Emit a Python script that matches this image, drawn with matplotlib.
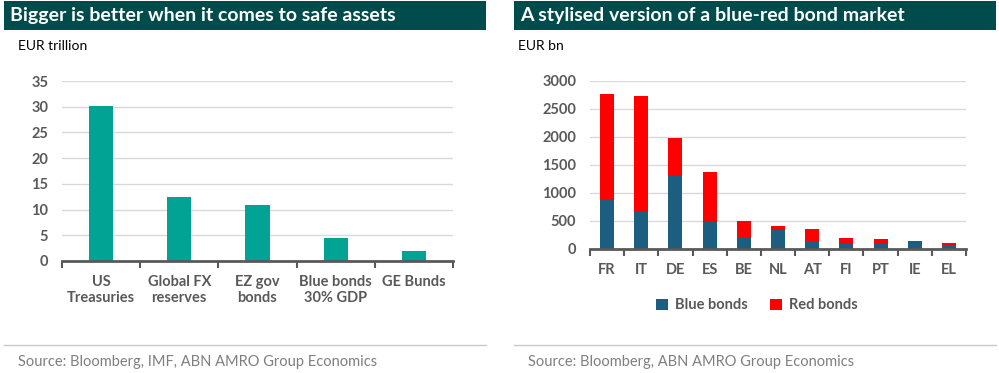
import numpy as np
import matplotlib.pyplot as plt

# data
asset_labels = ["US\nTreasuries", "Global FX\nreserves", "EZ gov\nbonds", "Blue bonds\n30% GDP", "GE Bunds"]
asset_values = [30.2, 12.4, 10.9, 4.4, 1.9]

countries = ["FR", "IT", "DE", "ES", "BE", "NL", "AT", "FI", "PT", "IE", "EL"]
blue_bonds = [875, 660, 1297, 482, 190, 345, 149, 89, 89, 149, 71]
red_bonds = [1890, 2065, 690, 892, 316, 71, 202, 113, 95, 0, 36]

# colours
header_col = "#004B4B"
teal = "#00A394"
blue = "#1B5E80"
red = "#FF0000"
tick_col = "#595959"
grid_col = "#D9D9D9"

plt.rcParams['font.family'] = ['Lato', 'DejaVu Sans']

W, H = 999, 373
fig = plt.figure(figsize=(W / 100, H / 100), dpi=100)


def px_axes(x0, y0, x1, y1):
    return fig.add_axes([x0 / W, 1 - y1 / H, (x1 - x0) / W, (y1 - y0) / H])


def style(ax, n):
    for s in ["top", "right", "left"]:
        ax.spines[s].set_visible(False)
    ax.spines["bottom"].set_color(tick_col)
    ax.spines["bottom"].set_linewidth(2)
    ax.yaxis.grid(True, color=grid_col, linewidth=1)
    ax.set_axisbelow(True)
    ax.tick_params(axis="y", length=0, labelsize=10.5, labelcolor=tick_col, pad=10)
    ax.tick_params(axis="x", which="major", length=0, labelsize=10.5, labelcolor=tick_col, pad=10)
    ax.set_xticks(np.arange(-0.5, n), minor=True)
    ax.tick_params(axis="x", which="minor", length=5, width=1.5, color=tick_col)
    ax.set_xlim(-0.5, n - 0.5)
    for lab in ax.get_xticklabels() + ax.get_yticklabels():
        lab.set_fontweight("bold")


# header bars
def header(x0, x1, text):
    hax = px_axes(x0, 1, x1, 30)
    hax.set_axis_off()
    hax.add_patch(plt.Rectangle((0, 0), 1, 1, color=header_col, transform=hax.transAxes))
    hax.text(0.012, 0.5, text, color="white", fontsize=14, fontweight="bold",
             va="center", ha="left", transform=hax.transAxes)


header(4, 486, "Bigger is better when it comes to safe assets")
header(514, 996, "A stylised version of a blue-red bond market")

# left chart
ax1 = px_axes(62, 81, 453, 261)
x1 = np.arange(len(asset_labels))
ax1.bar(x1, asset_values, width=0.31, color=teal)
ax1.set_ylim(0, 35)
ax1.set_yticks(range(0, 36, 5))
ax1.set_xticks(x1)
ax1.set_xticklabels(asset_labels)
style(ax1, len(asset_labels))

# right chart
ax2 = px_axes(590, 81, 966, 249)
x2 = np.arange(len(countries))
ax2.bar(x2, blue_bonds, width=0.41, color=blue, label="Blue bonds")
ax2.bar(x2, red_bonds, width=0.41, bottom=blue_bonds, color=red, label="Red bonds")
ax2.set_ylim(0, 3000)
ax2.set_yticks(range(0, 3001, 500))
ax2.set_xticks(x2)
ax2.set_xticklabels(countries)
style(ax2, len(countries))
leg = ax2.legend(loc="center", bbox_to_anchor=(0.444, -0.335), ncol=2, frameon=False,
                 handlelength=0.8, handleheight=0.8, handletextpad=0.5, columnspacing=1.5,
                 prop={"size": 10.5, "weight": "bold"})
for t in leg.get_texts():
    t.set_color(tick_col)

# units
fig.text(18 / W, 1 - 46 / H, "EUR trillion", fontsize=10, color="black", va="center")
fig.text(518 / W, 1 - 46 / H, "EUR bn", fontsize=10, color="black", va="center")

# separators and sources
fig.add_artist(plt.Line2D([4 / W, 486 / W], [1 - 345 / H] * 2, color="#C8C8C8", linewidth=1))
fig.add_artist(plt.Line2D([514 / W, 996 / W], [1 - 345 / H] * 2, color="#C8C8C8", linewidth=1))
fig.text(18 / W, 1 - 362 / H, "Source: Bloomberg, IMF, ABN AMRO Group Economics",
         fontsize=10.5, color="#7F7F7F", va="center")
fig.text(528 / W, 1 - 362 / H, "Source: Bloomberg, ABN AMRO Group Economics",
         fontsize=10.5, color="#7F7F7F", va="center")

fig.savefig("out.png", dpi=100)
